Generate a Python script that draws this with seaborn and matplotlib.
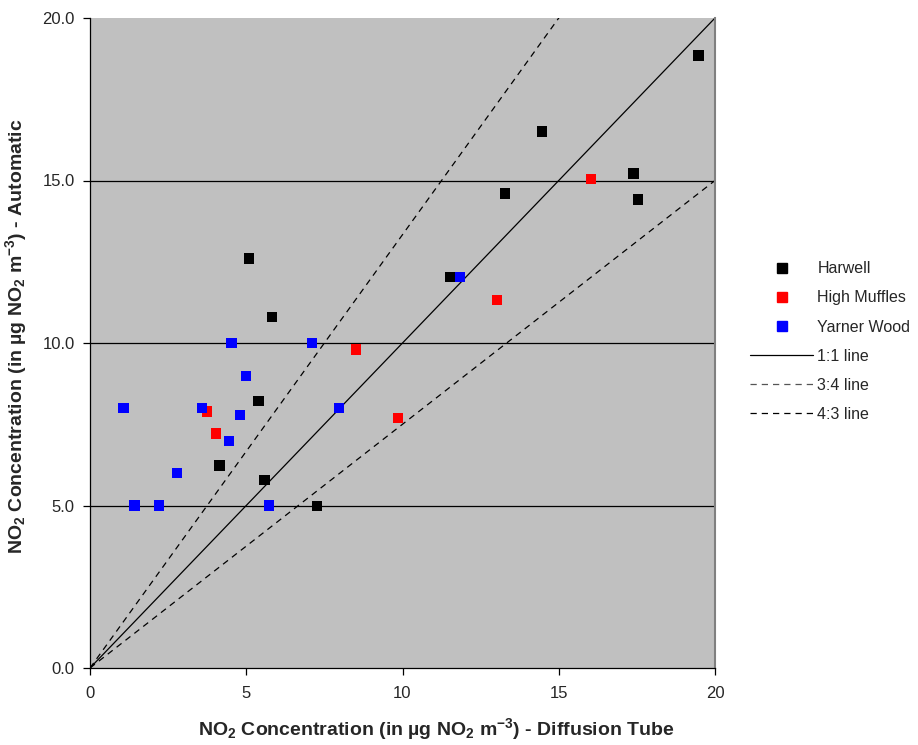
import matplotlib
matplotlib.use("Agg")
import matplotlib.pyplot as plt
from matplotlib.lines import Line2D
import seaborn as sns
import pandas as pd
import numpy as np

# ---- data ----
harwell_x = [19.47, 14.46, 17.39, 13.27, 17.54, 11.53, 5.09, 5.82, 5.39, 4.14, 5.58, 7.26]
harwell_y = [18.85, 16.51, 15.22, 14.60, 14.42, 12.03, 12.60, 10.79, 8.22, 6.23, 5.79, 4.98]
muffles_x = [16.04, 13.02, 8.51, 9.85, 3.74, 4.04]
muffles_y = [15.04, 11.32, 9.80, 7.70, 7.89, 7.22]
yarner_x = [11.83, 4.53, 7.11, 4.99, 1.07, 3.59, 7.97, 4.79, 4.44, 2.79, 1.42, 2.21, 5.73]
yarner_y = [12.03, 10.00, 10.00, 8.98, 8.00, 8.00, 8.00, 7.79, 6.98, 5.99, 5.00, 5.00, 5.00]
site_names = ["Harwell", "High Muffles", "Yarner Wood"]
site_colors = ["#000000", "#FF0000", "#0000FF"]
ref_names = ["1:1 line", "3:4 line", "4:3 line"]
ref_slopes = [1.0, 4.0 / 3.0, 0.75]
line_x = [0, 20]
x_ticks = [0, 5, 10, 15, 20]
y_ticks = [0.0, 5.0, 10.0, 15.0, 20.0]

df = pd.DataFrame({
    "x": harwell_x + muffles_x + yarner_x,
    "y": harwell_y + muffles_y + yarner_y,
    "site": [site_names[0]] * len(harwell_x) + [site_names[1]] * len(muffles_x) + [site_names[2]] * len(yarner_x),
})

sns.set_theme(style="white")
plt.rcParams["font.family"] = ["Liberation Sans", "DejaVu Sans"]
plt.rcParams["mathtext.fontset"] = "custom"
plt.rcParams["mathtext.rm"] = "Liberation Sans:bold"
plt.rcParams["mathtext.bf"] = "Liberation Sans:bold"
plt.rcParams["mathtext.it"] = "Liberation Sans:bold"
plt.rcParams["mathtext.default"] = "rm"

fig = plt.figure(figsize=(9.18, 7.45), dpi=100)
ax = fig.add_axes([90 / 918, 1 - 668 / 745, 625 / 918, 650 / 745])
ax.set_facecolor("#C0C0C0")

for yv in y_ticks[1:-1]:
    ax.axhline(yv, color="black", lw=0.9, zorder=1)

styles = [("-", "black"), ((0, (5, 4)), "black"), ((0, (5, 4)), "black")]
for name, slope, (ls, col) in zip(ref_names, ref_slopes, styles):
    lx = np.array(line_x, dtype=float)
    ly = lx * slope
    ax.plot(lx, ly, linestyle=ls, color=col, lw=0.9, zorder=2)

sns.scatterplot(data=df, x="x", y="y", hue="site", hue_order=site_names,
                palette=site_colors, marker="s", s=55, edgecolor="none",
                ax=ax, legend=False, zorder=3)

ax.set_xlim(0, 20)
ax.set_ylim(0, 20)
ax.set_xticks(x_ticks)
ax.set_yticks(y_ticks)
ax.set_xticklabels([f"{v:d}" for v in x_ticks], fontsize=12)
ax.set_yticklabels([f"{v:.1f}" for v in y_ticks], fontsize=12)
ax.tick_params(axis="x", direction="out", length=5, width=0.9, color="black",
               bottom=True, pad=8)
ax.tick_params(axis="y", direction="out", length=5, width=0.9, color="black",
               left=True, pad=6)
for s in ["left", "bottom"]:
    ax.spines[s].set_color("black")
    ax.spines[s].set_linewidth(0.9)
ax.spines["top"].set_visible(False)
ax.spines["right"].set_color("#808080")
ax.spines["right"].set_linewidth(1.5)

ax.set_xlabel("NO$_2$ Concentration (in µg NO$_2$ m$^{-3}$) - Diffusion Tube",
              fontsize=14, fontweight="bold")
ax.set_ylabel("NO$_2$ Concentration (in µg NO$_2$ m$^{-3}$) - Automatic",
              fontsize=14, fontweight="bold")
ax.xaxis.set_label_coords(0.554, -0.074)
ax.yaxis.set_label_coords(-0.097, 0.51)

handles = [Line2D([], [], ls="none", marker="s", color=c, markersize=7) for c in site_colors]
handles += [Line2D([], [], ls="-", color="black", lw=0.9),
            Line2D([], [], ls=(0, (5, 4)), color="#555555", lw=0.9),
            Line2D([], [], ls=(0, (5, 4)), color="black", lw=0.9)]
fig.legend(handles, site_names + ref_names, loc="upper left",
           bbox_to_anchor=(744 / 918, 1 - 255 / 745), frameon=False,
           fontsize=11.5, handlelength=3.9, handletextpad=0.3,
           labelspacing=0.88, borderaxespad=0)

fig.savefig("out.png", dpi=100)
